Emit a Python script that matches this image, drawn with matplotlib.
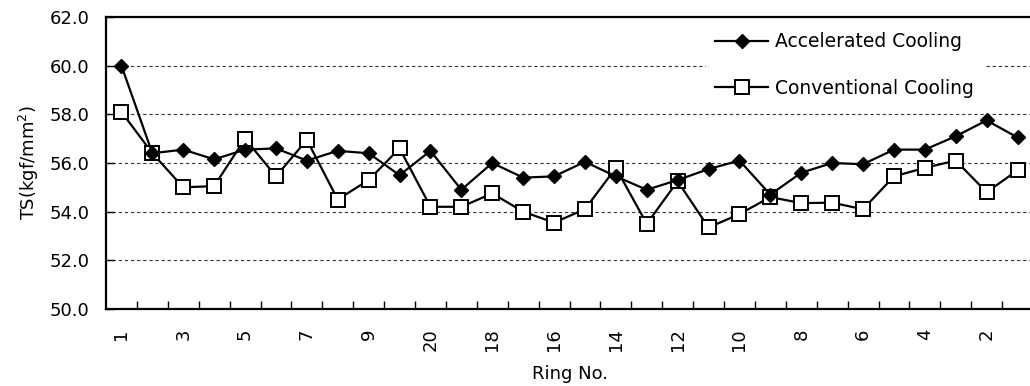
import matplotlib
matplotlib.use("Agg")
import matplotlib.pyplot as plt
import numpy as np

ring_labels = ['1', '2', '3', '4', '5', '6', '7', '8', '9', '10',
               '20', '19', '18', '17', '16', '15', '14', '13', '12', '11',
               '10', '9', '8', '7', '6', '5', '4', '3', '2', '1']
accelerated = [60.0, 56.4, 56.55, 56.15, 56.55, 56.6, 56.1, 56.5, 56.4, 55.5,
               56.5, 54.9, 56.0, 55.4, 55.45, 56.05, 55.45, 54.9, 55.3, 55.75,
               56.1, 54.7, 55.6, 56.0, 55.95, 56.55, 56.55, 57.1, 57.75, 57.05]
conventional = [58.1, 56.4, 55.0, 55.05, 57.0, 55.45, 56.95, 54.5, 55.3, 56.6,
                54.2, 54.2, 54.75, 54.0, 53.55, 54.1, 55.8, 53.5, 55.25, 53.35,
                53.9, 54.6, 54.35, 54.37, 54.1, 55.45, 55.8, 56.1, 54.8, 55.7]
y_ticks = [50, 52, 54, 56, 58, 60, 62]

plt.rcParams['font.family'] = ['DejaVu Sans']

fig = plt.figure(figsize=(10.30, 3.86), dpi=100)
ax = fig.add_axes([106/1030, 77/386, 927/1030, 292/386])

x = np.arange(len(ring_labels))
ax.plot(x, accelerated, color='black', lw=1.6, marker='D', ms=6.8,
        mfc='black', mec='black', label='Accelerated Cooling', zorder=4)
ax.plot(x, conventional, color='black', lw=1.6, marker='s', ms=10.5,
        mfc='white', mec='black', mew=1.4, label='Conventional Cooling', zorder=3)

ax.set_xlim(-0.5, len(ring_labels) - 0.5)
ax.set_ylim(50, 62)
ax.set_yticks(y_ticks)
ax.set_yticklabels([f'{v:.1f}' for v in y_ticks], fontsize=13)
for v in y_ticks[1:-1]:
    ax.axhline(v, color='#333333', lw=0.8, ls=(0, (3, 2.5)), zorder=1)

ax.set_xticks(x[::2])
ax.set_xticklabels(ring_labels[::2], rotation=90, fontsize=13, va='top', ha='center')
ax.set_xticks(np.arange(0.5, len(ring_labels) - 0.5, 1.0), minor=True)
ax.tick_params(axis='x', which='major', length=0, pad=14)
ax.tick_params(axis='x', which='minor', direction='in', length=6, width=1)
ax.tick_params(axis='y', direction='in', length=6, width=1, pad=12)

for s in ['left', 'bottom', 'top', 'right']:
    ax.spines[s].set_linewidth(1.6)

ax.set_ylabel('TS(kgf/mm$^2$)', fontsize=13, labelpad=6)
fig.text(570/1030, 1 - 374/386, 'Ring No.', fontsize=13, ha='center', va='center')

leg = ax.legend(loc='upper left', bbox_to_anchor=(706/1030, 1 - 23/386),
                bbox_transform=fig.transFigure, frameon=True, fancybox=False,
                edgecolor='none', facecolor='white', framealpha=1,
                fontsize=13.5, handlelength=2.8, handletextpad=0.4,
                labelspacing=1.45, borderpad=0.5, borderaxespad=0)

fig.savefig('out.png', dpi=100)
